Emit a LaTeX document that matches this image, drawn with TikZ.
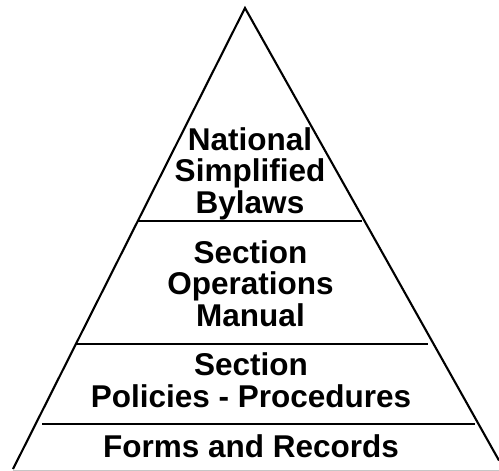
\documentclass[tikz,border=0pt]{standalone}
\usepackage{fontspec}
\setmainfont{Liberation Sans}
\begin{document}
\begin{tikzpicture}[
    x=1pt, y=-1pt, % pixel-like grid, origin top left
    side/.style = {draw=black, line width=2.1pt, line join=miter},
    tier/.style = {draw=black, line width=2.1pt},
    base/.style = {draw=gray!45, line width=0.9pt}
    ]
    % base anchor sits on the last line of the text
    \tikzstyle{label_style} = [inner sep=0pt, align=center, anchor=base,
        font=\bfseries\fontsize{31.5}{31.5}\selectfont]
    \useasboundingbox (0,0) rectangle (499,471);

    % outline of the pyramid
    \coordinate (left) at (13,469);
    \coordinate (top) at (245,8);
    \coordinate (right) at (499,460.5);
    \draw[side] (left) -- (top) -- (right);
    \draw[base] (13,470) -- (499,470);

    % dividers between the levels
    \draw[tier] (137,221) -- (362,221);
    \draw[tier] (75,344) -- (428,344);
    \draw[tier] (42,424) -- (475,424);

    \node[label_style] (bylaws) at (250,213) {National\\Simplified\\Bylaws};
    \node[label_style] (manual) at (250.5,326) {Section\\Operations\\Manual};
    \node[label_style] (policies) at (251,407) {Section\\Policies - Procedures};
    \node[label_style] (records) at (251,457) {Forms and Records};
\end{tikzpicture}
\end{document}
